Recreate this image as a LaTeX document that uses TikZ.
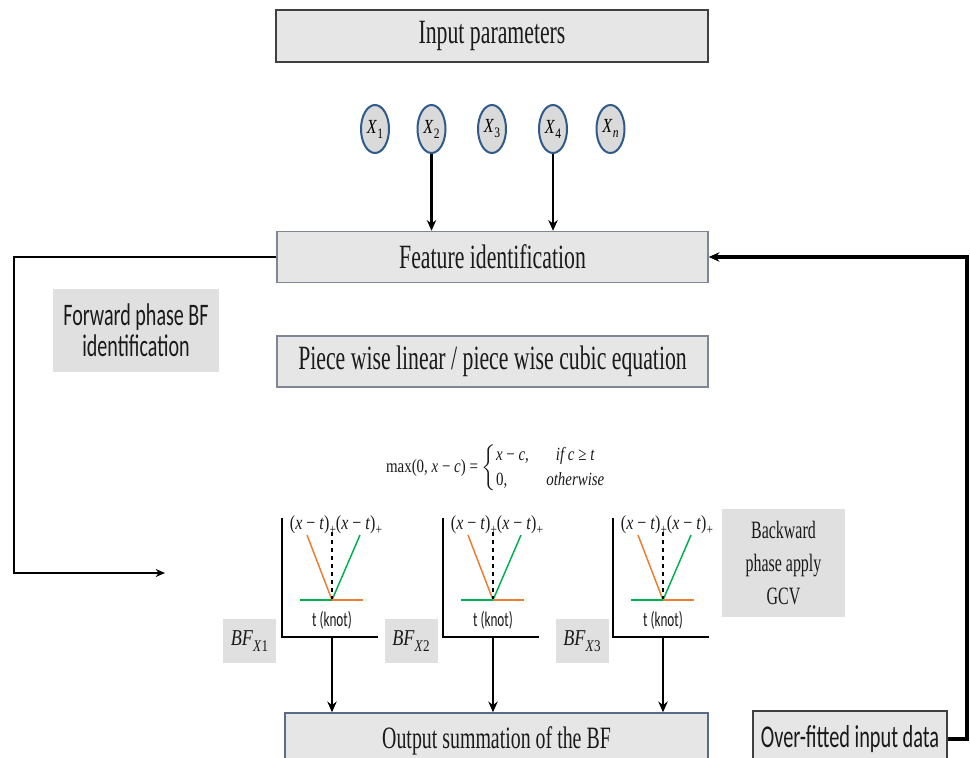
\documentclass[tikz,border=0pt]{standalone}
\usepackage{amsmath}
\usepackage{graphicx}
\usepackage{fontspec}
\newfontfamily\cserif[FakeStretch=0.64]{Liberation Serif}
\newfontfamily\cmathf[FakeStretch=0.8]{Liberation Serif}
\newfontfamily\csans[FakeStretch=0.64]{Carlito}
\newcommand\subtx[1]{\raisebox{-0.25em}{\fontsize{0.72em}{1em}\selectfont #1}}
\usetikzlibrary{arrows.meta,shapes.geometric}
\definecolor{boxfill}{HTML}{E6E6E6}
\definecolor{lblfill}{HTML}{E0E0E0}
\definecolor{ellfill}{HTML}{DADADA}
\definecolor{ellline}{HTML}{2F5A8A}
\definecolor{bordA}{HTML}{404040}
\definecolor{bordB}{HTML}{7F8796}
\definecolor{bordC}{HTML}{5A6B85}
\definecolor{orng}{HTML}{ED7D31}
\definecolor{grn}{HTML}{00B050}
\definecolor{txt}{HTML}{1A1A1A}
\tikzset{
  mainbox/.style={draw=#1, line width=1.1pt, fill=boxfill, inner sep=0pt, text=txt},
  lblbox/.style={fill=lblfill, inner sep=0pt, align=center, text=txt},
  xell/.style={ellipse, draw=ellline, line width=1.5pt, fill=ellfill,
     minimum width=28*0.75pt, minimum height=48*0.75pt, inner sep=0pt,
     font=\cmathf\fontsize{15}{17}\selectfont},
  arr/.style={line width=2pt, -{Stealth[length=8pt,width=7pt]}},
  axisl/.style={line width=0.9pt},
  orl/.style={orng, line width=1.1pt},
  grl/.style={grn, line width=1.1pt},
  serifbig/.style={font=\cserif\fontsize{25.5}{28}\selectfont},
}
\newcommand\xt{(\textit{x} − \textit{t})\subtx{+}}
\begin{document}
\begin{tikzpicture}[x=0.75pt,y=-0.75pt]
\useasboundingbox (0,0) rectangle (970,757);
\fill[white] (0,0) rectangle (970,757);

% main boxes
\node[mainbox=bordA, serifbig, minimum width=432*0.75pt, minimum height=52*0.75pt] (inp) at (492,36) {Input parameters};
\node[mainbox=bordB, serifbig, minimum width=431*0.75pt, minimum height=51*0.75pt] (feat) at (492.5,257) {Feature identification};
\node[mainbox=bordB, serifbig, minimum width=431*0.75pt, minimum height=51*0.75pt] (pw) at (492.5,361.5) {Piece wise linear / piece wise cubic equation};
\node[mainbox=bordC, font=\cserif\fontsize{23.3}{26}\selectfont, minimum width=423*0.75pt, minimum height=55*0.75pt] (out) at (496.5,740.5) {Output summation of the BF};
\node[mainbox=bordA, line width=1.2pt, font=\csans\fontsize{23.8}{26}\selectfont, minimum width=194*0.75pt, minimum height=56*0.75pt] (over) at (850,739) {Over-fitted input data};

% ellipses
\node[xell] (x1) at (375,129) {\textit{X}\subtx{1}};
\node[xell] (x2) at (431.5,129) {\textit{X}\subtx{2}};
\node[xell] (x3) at (492,129) {\textit{X}\subtx{3}};
\node[xell] (x4) at (553,129) {\textit{X}\subtx{4}};
\node[xell] (xn) at (610.5,129) {\raisebox{5pt}{\textit{X}\subtx{\textit{n}}}};

\draw[arr] (x2.south) -- (x2.south |- feat.north);
\draw[arr] (x4.south) -- (x4.south |- feat.north);

% side labels
\node[lblbox, font=\csans\fontsize{23.5}{23.5}\selectfont, minimum width=166*0.75pt, minimum height=83*0.75pt] (fwd) at (136,330.5) {Forward phase BF\\identification};
\node[lblbox, font=\cserif\fontsize{18.7}{24.5}\selectfont, minimum width=123*0.75pt, minimum height=108*0.75pt] (bwd) at (783.5,563) {Backward\\phase apply\\GCV};

% loops
\coordinate (lc) at (14,573);
\coordinate (fwdtip) at (165,573);
\draw[line width=1.6pt, -{Stealth[length=7pt,width=6pt]}] (feat.west) -| (lc) -- (fwdtip);
\coordinate (rc) at (967,257);
\draw[line width=2.6pt, -{Stealth[length=8pt,width=7pt]}] (over.east) -| (rc) -- (feat.east);

% formula
\node[font=\cmathf\fontsize{14}{18.5}\selectfont, text=txt] (eq) at (496,468) {max(0, \textit{x} − \textit{c}) = $\left\{\begin{tabular}{@{}l@{\hspace{13pt}}c@{}}\textit{x} − \textit{c}, & \textit{if c} ≥ \textit{t}\\ 0, & \textit{otherwise}\end{tabular}\right.$};

% plots
\foreach \bx/\nm/\lx/\lab in {282/p1/249.5/1, 443/p2/411/2, 613/p3/582/3}{
  \draw[axisl] (\bx,518) -- (\bx,637) -- (\bx+96,637);
  \draw[orl] (\bx+25,535) -- (\bx+50,600);
  \draw[grl] (\bx+50,600) -- (\bx+78,535);
  \draw[dashed, line width=0.8pt] (\bx+50,532) -- (\bx+50,600);
  \draw[grl] (\bx+18,600) -- (\bx+50,600);
  \draw[orl] (\bx+50,600) -- (\bx+81,600);
  \node[font=\cmathf\fontsize{15}{17}\selectfont, inner sep=0pt, text=txt] (\nm la) at (\bx+31,525) {\xt};
  \node[font=\cmathf\fontsize{15}{17}\selectfont, inner sep=0pt, text=txt] (\nm lb) at (\bx+77,525) {\xt};
  \node[font=\csans\fontsize{15.5}{17}\selectfont, inner sep=0pt, text=txt] (\nm k) at (\bx+50,620) {t (knot)};
  \coordinate (\nm) at (\bx+50,637);
  \draw[arr] (\nm) -- (\nm |- out.north);
  \node[lblbox, font=\cmathf\fontsize{17}{20}\selectfont, minimum width=53*0.75pt, minimum height=44*0.75pt] (bf\lab) at (\lx,641) {\textit{BF}\subtx{\textit{X}\lab}};
}
\end{tikzpicture}
\end{document}
